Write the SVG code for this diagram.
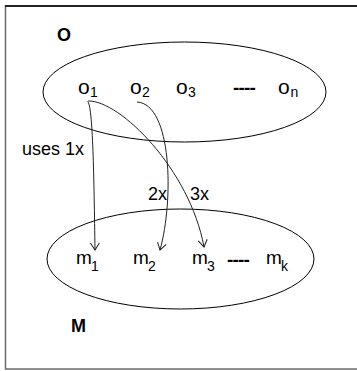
<svg xmlns="http://www.w3.org/2000/svg" width="357" height="371" viewBox="0 0 357 371">
<style>
text{font-family:"Liberation Sans",Arial,sans-serif;fill:#000}
.set{fill:none;stroke:#000;stroke-width:1}
.hd{font-weight:bold;font-size:18px}
.eo{font-size:21px}
.em{font-size:19px}
.sb{font-size:14px}
.lb{font-size:18px}
.dots{font-weight:bold;font-size:19px;letter-spacing:-0.8px}
.conn{fill:none;stroke:#222;stroke-width:1}
</style>
<defs>
<marker id="arr" markerUnits="userSpaceOnUse" markerWidth="14" markerHeight="14" refX="0" refY="0" viewBox="-8 -7 10 14" orient="auto" overflow="visible">
<path d="M-7,-4.5 L0,0 L-7,4.5" fill="none" stroke="#222" stroke-width="1"/>
</marker>
</defs>
<rect x="5.5" y="6" width="360" height="363" fill="#fff" stroke="#6b6b6b" stroke-width="1.5"/>
<line x1="5" y1="6" x2="357" y2="6" stroke="#000" stroke-width="1.5"/>
<g id="setO">
<ellipse class="set" cx="184.5" cy="92" rx="141.5" ry="50"/>
<text class="hd" x="57" y="41">O</text>
</g>
<g id="o1"><text class="eo" x="78" y="94">o</text><text class="sb" x="90" y="97">1</text></g>
<g id="o2"><text class="eo" x="130" y="94">o</text><text class="sb" x="142" y="97">2</text></g>
<g id="o3"><text class="eo" x="176" y="94">o</text><text class="sb" x="188" y="97">3</text></g>
<g id="odots"><text class="dots" x="233" y="94">----</text></g>
<g id="on"><text class="eo" x="278" y="94">o</text><text class="sb" x="290.5" y="97">n</text></g>
<g id="setM">
<ellipse class="set" cx="180.5" cy="259" rx="133.5" ry="50"/>
<text class="hd" x="71" y="332">M</text>
</g>
<g id="m1"><text class="em" x="76" y="264">m</text><text class="sb" x="91" y="271">1</text></g>
<g id="m2"><text class="em" x="133" y="264">m</text><text class="sb" x="148" y="271">2</text></g>
<g id="m3"><text class="em" x="192" y="264">m</text><text class="sb" x="207" y="271">3</text></g>
<g id="mdots"><text class="dots" x="227" y="266">----</text></g>
<g id="mk"><text class="em" x="266" y="264">m</text><text class="sb" x="281" y="271">k</text></g>
<g id="connectors">
<path class="conn" d="M87.5,101.5 C93,104 94,180 95,250" marker-end="url(#arr)"/>
<path class="conn" d="M88,101 C120,100 190,170 204,247" marker-end="url(#arr)"/>
<path class="conn" d="M137,102 C172,104 174,200 160,250" marker-end="url(#arr)"/>
<text class="lb" x="22" y="155">uses 1x</text>
<text class="lb" x="148" y="200">2x</text>
<text class="lb" x="190" y="200">3x</text>
</g>
</svg>
